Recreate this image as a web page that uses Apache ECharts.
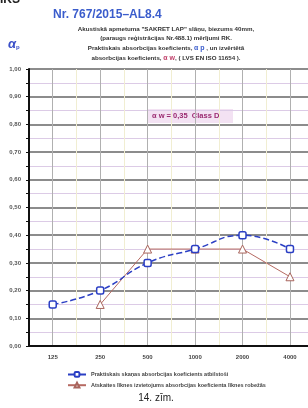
<!DOCTYPE html>
<html>
<head>
<meta charset="utf-8">
<script src="https://cdn.jsdelivr.net/npm/echarts@6/dist/echarts.min.js"></script>
<style>
  html, body { margin: 0; padding: 0; background: #fff; }
  #chart { width: 308px; height: 408px; }
</style>
</head>
<body>
<div id="chart"></div>
<script>
// frequencies (Hz) on the x axis
const freqs = ['125', '250', '500', '1000', '2000', '4000'];
// practical absorption coefficient ap
const alphaP = [0.15, 0.20, 0.30, 0.35, 0.40, 0.35];
// shifted reference curve (aw)
const alphaRef = [null, 0.15, 0.35, 0.35, 0.35, 0.25];
const seriesNames = [
    'Praktiskais skaņas absorbcijas koeficients atbilstoši',
    'Atskaites līknes izvietojums absorbcijas koeficienta līknes robežās'
];

const font = '"Liberation Sans", Arial, sans-serif';
const toPairs = arr => arr.map((v, i) => [i, v]).filter(p => p[1] !== null);

let chart = echarts.init(document.getElementById('chart'));

chart.setOption({
    animation: false,
    backgroundColor: '#fff',
    textStyle: { fontFamily: font },
    title: {
        text: 'Nr. 767/2015–AL8.4',
        left: 48, top: 4,
        textStyle: { color: '#3a5ccc', fontSize: 12, fontWeight: 'bold', fontFamily: font }
    },
    grid: { left: 29, right: 0, top: 69, bottom: 62 },
    xAxis: {
        type: 'value',
        min: -0.5, max: 5.38, interval: 0.5,
        axisLine: { onZero: false, lineStyle: { color: '#111', width: 2 } },
        axisTick: { show: false },
        axisLabel: {
            fontSize: 6, fontWeight: 'bold', color: '#444', margin: 8,
            showMaxLabel: false,
            formatter: v => Number.isInteger(v) && freqs[v] ? freqs[v] : ''
        },
        splitLine: { show: true, lineStyle: { color: ['#f1eed2', '#b0b0b0'], width: 1 } }
    },
    yAxis: {
        type: 'value',
        min: 0, max: 1, interval: 0.1,
        axisLine: { show: true, onZero: false, lineStyle: { color: '#111', width: 2 } },
        axisTick: { show: true, length: 3, lineStyle: { color: '#111' } },
        minorTick: { show: true, splitNumber: 2, length: 3, lineStyle: { color: '#111' } },
        axisLabel: {
            fontSize: 6, fontWeight: 'bold', color: '#555', margin: 8,
            formatter: v => v.toFixed(2).replace('.', ',')
        },
        splitLine: { lineStyle: { color: '#8c8c8c', width: 2 } },
        minorSplitLine: { show: true, lineStyle: { color: '#dccbe6', width: 1 } }
    },
    legend: {
        orient: 'vertical',
        left: 62, top: 366,
        itemGap: 4, itemWidth: 18, itemHeight: 6,
        textStyle: { fontSize: 5.5, fontWeight: 'bold', color: '#444', fontFamily: font },
        data: seriesNames
    },
    series: [
        {
            name: seriesNames[0],
            type: 'line',
            smooth: true,
            data: toPairs(alphaP),
            symbol: 'roundRect', symbolSize: 7,
            lineStyle: { color: '#2b3fc4', width: 1.5, type: 'dashed' },
            itemStyle: { color: '#fff', borderColor: '#2b3fc4', borderWidth: 1.5 },
            z: 3
        },
        {
            name: seriesNames[1],
            type: 'line',
            data: toPairs(alphaRef),
            symbol: 'triangle', symbolSize: 8,
            lineStyle: { color: '#b66a62', width: 1 },
            itemStyle: { color: '#fff', borderColor: '#a8645c', borderWidth: 1 },
            z: 2
        }
    ],
    graphic: [
        {
            type: 'text', left: 0, top: -6,
            style: { text: 'IKS', fontSize: 12, fontWeight: 'bold', fill: '#222', fontFamily: font }
        },
        {
            type: 'text', left: 8, top: 38,
            style: {
                text: '{a|α}{s|p}',
                rich: {
                    a: { fontSize: 13, fontStyle: 'italic', fontWeight: 'bold', fill: '#3a4fc8', fontFamily: font },
                    s: { fontSize: 6, fill: '#3a4fc8', fontWeight: 'bold', padding: [6, 0, 0, 0], fontFamily: font }
                }
            }
        },
        {
            type: 'text', x: 166, y: 24,
            style: {
                text: 'Akustiskā apmetuma "SAKRET LAP" slāņu, biezums 40mm,\n' +
                      '(paraugs reģistrācijas Nr.488.1) mērījumi RK.\n' +
                      'Praktiskais absorbcijas koeficients, {b|α p} , un izvērtētā\n' +
                      'absorbcijas koeficients, {r|α w}, ( LVS EN ISO 11654 ).',
                align: 'center',
                fontSize: 6.2, fontWeight: 'bold', fill: '#333', lineHeight: 9.8, fontFamily: font,
                rich: {
                    b: { fill: '#3a5ccc', fontSize: 7, fontWeight: 'bold', fontFamily: font },
                    r: { fill: '#c0406a', fontSize: 7, fontWeight: 'bold', fontFamily: font }
                }
            }
        },
        {
            type: 'group', left: 148, top: 109,
            children: [
                {
                    type: 'rect', shape: { x: 0, y: 0, width: 85, height: 14 },
                    style: { fill: '#f3e2f3' }
                },
                {
                    type: 'text', x: 4, y: 3,
                    style: {
                        text: 'α w = 0,35  Class D',
                        fontSize: 7.5, fontWeight: 'bold', fill: '#9a2a70', fontFamily: font
                    }
                }
            ]
        },
        {
            type: 'text', x: 156, y: 393,
            style: {
                text: '14. zīm.', align: 'center',
                fontSize: 10, fill: '#222', fontFamily: font
            }
        }
    ]
});
</script>
</body>
</html>
